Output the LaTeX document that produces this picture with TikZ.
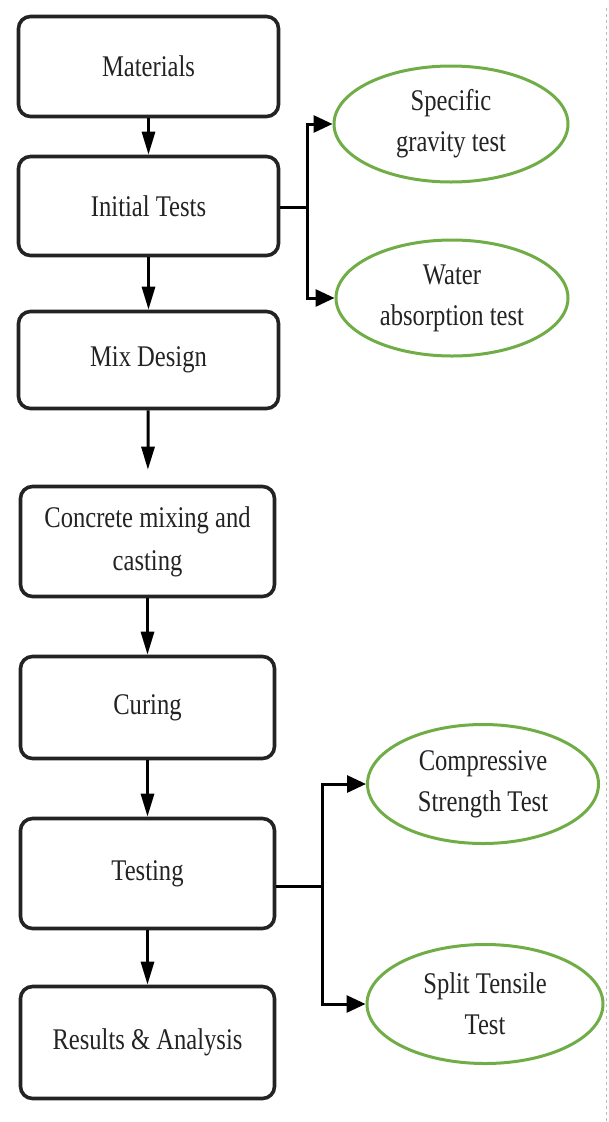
\documentclass[tikz,border=0pt]{standalone}
\usepackage{fontspec}
\setmainfont{Liberation Serif}[FakeStretch=0.82]
\usetikzlibrary{arrows.meta, shapes.geometric}

\definecolor{testgreen}{RGB}{112,173,71}
\definecolor{inkgrey}{RGB}{35,35,35}

\begin{document}
\begin{tikzpicture}[
	x=1pt, y=-1pt,
	stage/.style={rectangle, rounded corners=12pt, draw=inkgrey, line width=3.6pt, fill=white, inner sep=0pt, align=center, text=inkgrey, font=\fontsize{30}{43}\selectfont},
	check/.style={ellipse, draw=testgreen, line width=3pt, fill=white, inner sep=0pt, align=center, text=inkgrey, font=\fontsize{30}{41}\selectfont},
	flow/.style={-{Triangle[length=23pt, width=13pt]}, line width=3pt, black},
	sideflow/.style={-{Triangle[length=19pt, width=17pt]}, line width=3pt, black},
	link/.style={line width=3pt, black}
	]
	
	\useasboundingbox (0,0) rectangle (608,1122);
	
	% Main column
	\node[stage, minimum width=260pt, minimum height=100pt] (mat) at (148.5, 66.5) {Materials};
	\node[stage, minimum width=260pt, minimum height=99pt] (init) at (148.5, 206) {Initial Tests};
	\node[stage, minimum width=260pt, minimum height=97pt] (mix) at (148.5, 360) {Mix Design};
	\node[stage, minimum width=254pt, minimum height=110pt] (cast) at (147.5, 541.5) {Concrete mixing and\\casting};
	\node[stage, minimum width=254pt, minimum height=102pt] (cure) at (147.5, 707.5) {Curing};
	\node[stage, minimum width=254pt, minimum height=110pt] (test) at (147.5, 873.5) {Testing};
	\node[stage, minimum width=254pt, minimum height=112pt] (res) at (147.5, 1042.5) {Results \& Analysis};
	
	% Side tests
	\node[check, minimum width=234pt, minimum height=116pt] (sg) at (451, 124) {Specific\\gravity test};
	\node[check, minimum width=232pt, minimum height=116pt] (wa) at (452, 298) {Water\\absorption test};
	\node[check, minimum width=231pt, minimum height=119pt] (cs) at (483, 784) {Compressive\\Strength Test};
	\node[check, minimum width=236pt, minimum height=119pt] (st) at (485, 1004) {Split Tensile\\Test};
	
	% Junctions of the side branches
	\coordinate (jA) at (307, 207);
	\coordinate (jB) at (322, 886);
	
	% Arrows down the column
	\draw[flow] (mat) -- (init);
	\draw[flow] (init) -- (mix);
	\draw[flow, shorten >=15pt] (mix) -- (cast);
	\draw[flow] (cast) -- (cure);
	\draw[flow] (cure) -- (test);
	\draw[flow] (test) -- (res);
	
	% Branches to the tests
	\draw[link] (init.east |- jA) -- (jA);
	\draw[sideflow] (jA) |- (sg.west);
	\draw[sideflow] (jA) |- (wa.west);
	\draw[link] (test.east |- jB) -- (jB);
	\draw[sideflow] (jB) |- (cs.west);
	\draw[sideflow] (jB) |- (st.west);
	
	% Page edge
	\draw[gray!55, dashed, line width=0.8pt] (606, 8) -- (606, 1122);
	
\end{tikzpicture}
\end{document}
